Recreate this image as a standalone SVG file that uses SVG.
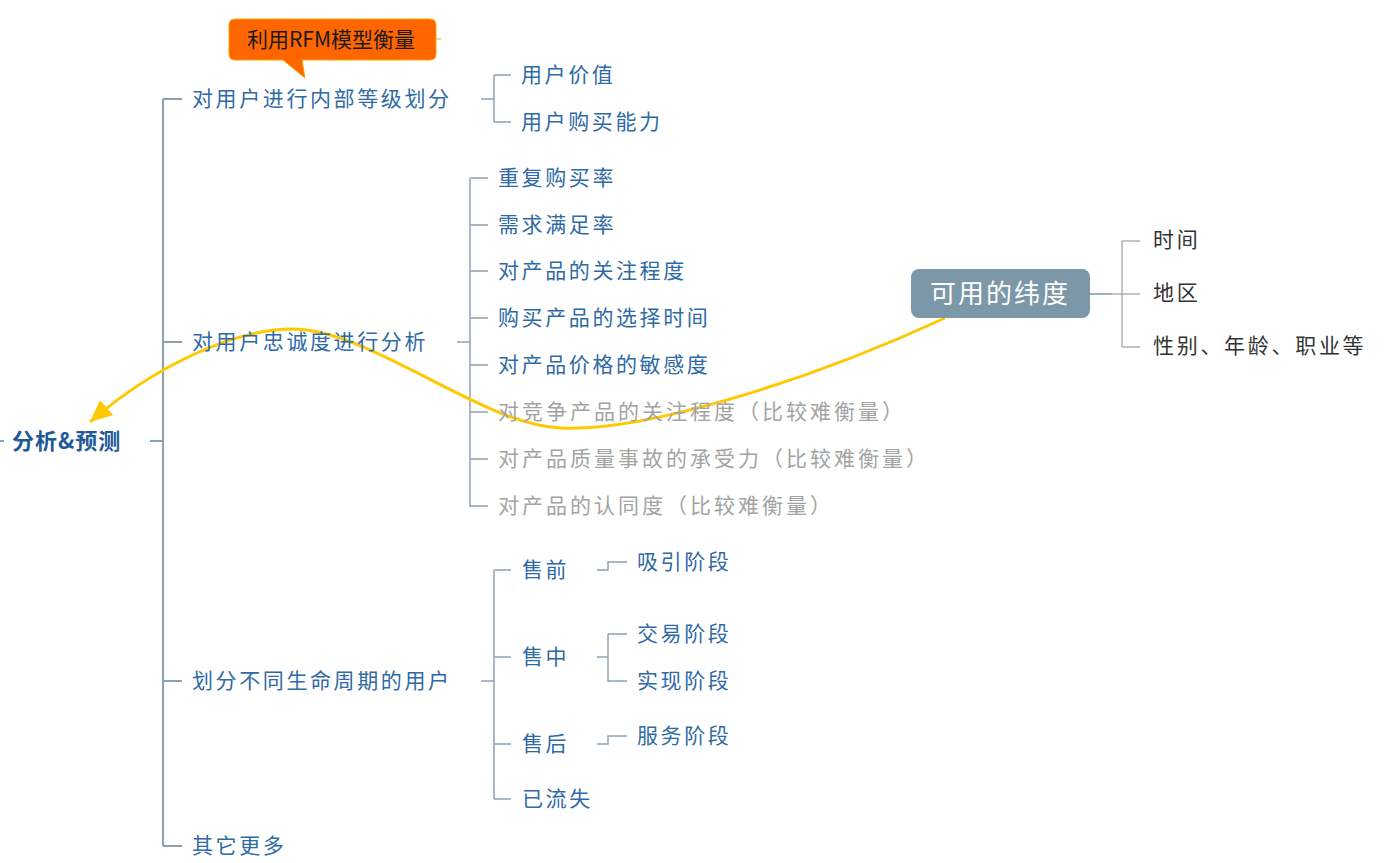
<svg xmlns="http://www.w3.org/2000/svg" width="1386" height="863" viewBox="0 0 1386 863">
<defs>
<style>
text{font-family:"Noto Sans CJK SC","Noto Sans",sans-serif;dominant-baseline:central}
.b{fill:#2f6aa6;font-size:21px;letter-spacing:2.6px}
.g{fill:#a3a3a3;font-size:21px;letter-spacing:3px}
.d{fill:#333333;font-size:21px;letter-spacing:2.7px}
.l0{stroke:#8a9fb0;stroke-width:2;fill:none}
.l1{stroke:#8fa3b3;stroke-width:1.5;fill:none}
.l2{stroke:#b0b0b0;stroke-width:1.5;fill:none}
</style>
<marker id="ah" markerUnits="userSpaceOnUse" markerWidth="26" markerHeight="22" refX="22" refY="10" orient="auto">
<path d="M0,0 L22,10 L0,20 z" fill="#ffc800"/>
</marker>
</defs>
<rect width="1386" height="863" fill="#ffffff"/>
<g id="connectors">
<line class="l0" x1="0" y1="441" x2="4" y2="441"/>
<path class="l0" d="M150,441 H163 M163,99 V846 M163,99 H182 M163,342 H182 M163,681 H182 M163,846 H182"/>
<path class="l1" d="M481,99 H494 M494,75 V122 M494,75 H511 M494,122 H511"/>
<path class="l1" d="M457,342 H470 M470,178 V507 M470,178 H488 M470,225 H488 M470,271 H488 M470,318 H488 M470,365 H488 M470,412 H488 M470,459 H488 M470,506 H488"/>
<path class="l1" d="M481,681 H494 M494,570 V799 M494,570 H511 M494,657 H511 M494,744 H511 M494,799 H511"/>
<path class="l1" d="M597,570 H608 V562 H627 M597,657 H608 M608,634 V682 M608,634 H627 M608,681 H627 M597,744 H608 V736 H627"/>
<path class="l2" d="M1112,294 H1122 M1122,241 V347 M1122,241 H1140 M1122,294 H1140 M1122,347 H1140"/>
<line x1="1090" y1="294" x2="1112" y2="294" stroke="#7b97a8" stroke-width="1.5"/>
<line x1="436" y1="39" x2="441" y2="39" stroke="#e0b000" stroke-width="1"/>
<path d="M945,318 C800,385 640,432 560,428 C480,424 370,329 293,329 C230,329 150,370 90,422" fill="none" stroke="#ffc800" stroke-width="3" marker-end="url(#ah)"/>
</g>
<g id="root"><text x="12" y="439" style="fill:#1f5a98;font-size:22px;font-weight:bold;letter-spacing:1px">分析&amp;预测</text></g>
<g id="n1"><text class="b" x="192" y="97">对用户进行内部等级划分</text></g>
<g id="n1a"><text class="b" x="521" y="73">用户价值</text></g>
<g id="n1b"><text class="b" x="521" y="120">用户购买能力</text></g>
<g id="callout">
<path d="M235,19 H430 Q436,19 436,25 V54 Q436,60 430,60 H302 L305,78 L283,60 H235 Q229,60 229,54 V25 Q229,19 235,19 Z" fill="#ff6600" stroke="#f0a800" stroke-width="1"/>
<text x="331" y="38" text-anchor="middle" style="fill:#1a1a1a;font-size:21px">利用RFM模型衡量</text>
</g>
<g id="n2"><text class="b" x="192" y="340">对用户忠诚度进行分析</text></g>
<g id="n2a"><text class="b" x="498" y="176">重复购买率</text></g>
<g id="n2b"><text class="b" x="498" y="223">需求满足率</text></g>
<g id="n2c"><text class="b" x="498" y="269">对产品的关注程度</text></g>
<g id="n2d"><text class="b" x="498" y="316">购买产品的选择时间</text></g>
<g id="n2e"><text class="b" x="498" y="363">对产品价格的敏感度</text></g>
<g id="n2f"><text class="g" x="498" y="410">对竞争产品的关注程度（比较难衡量）</text></g>
<g id="n2g"><text class="g" x="498" y="457">对产品质量事故的承受力（比较难衡量）</text></g>
<g id="n2h"><text class="g" x="498" y="504">对产品的认同度（比较难衡量）</text></g>
<g id="n3"><text class="b" x="192" y="679">划分不同生命周期的用户</text></g>
<g id="n3a"><text class="b" x="522" y="568">售前</text></g>
<g id="n3a1"><text class="b" x="637" y="560">吸引阶段</text></g>
<g id="n3b"><text class="b" x="522" y="655">售中</text></g>
<g id="n3b1"><text class="b" x="637" y="632">交易阶段</text></g>
<g id="n3b2"><text class="b" x="637" y="679">实现阶段</text></g>
<g id="n3c"><text class="b" x="522" y="742">售后</text></g>
<g id="n3c1"><text class="b" x="637" y="734">服务阶段</text></g>
<g id="n3d"><text class="b" x="522" y="797">已流失</text></g>
<g id="n4"><text class="b" x="192" y="844">其它更多</text></g>
<g id="dim">
<rect x="911" y="269" width="179" height="49" rx="8" fill="#7b97a8"/>
<text x="1000" y="291" text-anchor="middle" style="fill:#ffffff;font-size:26px;letter-spacing:2px">可用的纬度</text>
</g>
<g id="dim1"><text class="d" x="1153" y="238">时间</text></g>
<g id="dim2"><text class="d" x="1153" y="291">地区</text></g>
<g id="dim3"><text class="d" x="1153" y="344">性别、年龄、职业等</text></g>
</svg>
